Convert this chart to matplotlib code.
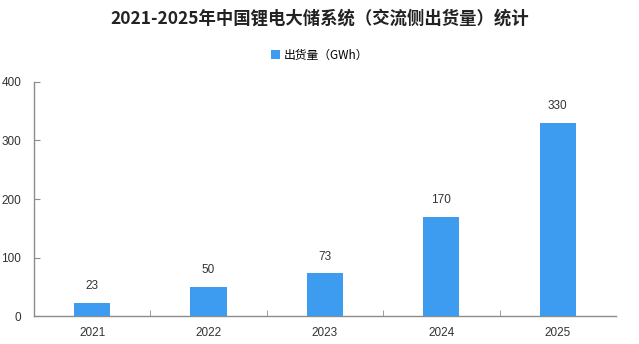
import matplotlib
matplotlib.use("Agg")
import matplotlib.pyplot as plt
from matplotlib.ticker import FixedLocator

plt.rcParams['font.family'] = ['Noto Sans CJK SC', 'DejaVu Sans']

years = ["2021", "2022", "2023", "2024", "2025"]
shipments = [23, 50, 73, 170, 330]
title = "2021-2025年中国锂电大储系统（交流侧出货量）统计"
series_name = "出货量（GWh）"

fig = plt.figure(figsize=(6.39, 3.44), dpi=100)
ax = fig.add_axes([0.053, 0.081, 0.911, 0.681])

x = list(range(len(years)))
bar_color = "#3D9BF0"
num_font = ["Liberation Sans", "DejaVu Sans"]
bars = ax.bar(x, shipments, width=0.31, color=bar_color, label=series_name, zorder=3)
for xi, v in zip(x, shipments):
    ax.text(xi, v + 18, f"{v}", ha="center", va="bottom", fontsize=8.5,
            color="#333333", family=num_font)

ax.set_xlim(-0.5, len(years) - 0.5)
ax.set_ylim(0, 400)
ax.set_yticks([0, 100, 200, 300, 400])
ax.set_yticklabels(["0", "100", "200", "300", "400"], family=num_font, fontsize=8.5, color="#333333")
ax.set_xticks(x)
ax.set_xticklabels(years, family=num_font, fontsize=8.5, color="#333333")
ax.tick_params(axis="x", length=0, pad=8)
ax.xaxis.set_minor_locator(FixedLocator([i + 0.5 for i in range(len(years) - 1)]))
ax.tick_params(axis="x", which="minor", length=4, direction="in", color="#8c8c8c")
ax.tick_params(axis="y", length=4, direction="in", color="#8c8c8c", pad=9)

for s in ["top", "right"]:
    ax.spines[s].set_visible(False)
for s in ["left", "bottom"]:
    ax.spines[s].set_color("#8c8c8c")
    ax.spines[s].set_linewidth(1.0)

fig.text(0.5, 0.945, title, ha="center", va="center", fontsize=12.5, fontweight="bold", color="#222222")
fig.legend(handles=[bars], labels=[series_name], loc="center", bbox_to_anchor=(0.5, 0.84),
           frameon=False, fontsize=8.5, handlelength=0.8, handleheight=0.8, handletextpad=0.3)

fig.savefig("out.png", dpi=100, facecolor="white")
